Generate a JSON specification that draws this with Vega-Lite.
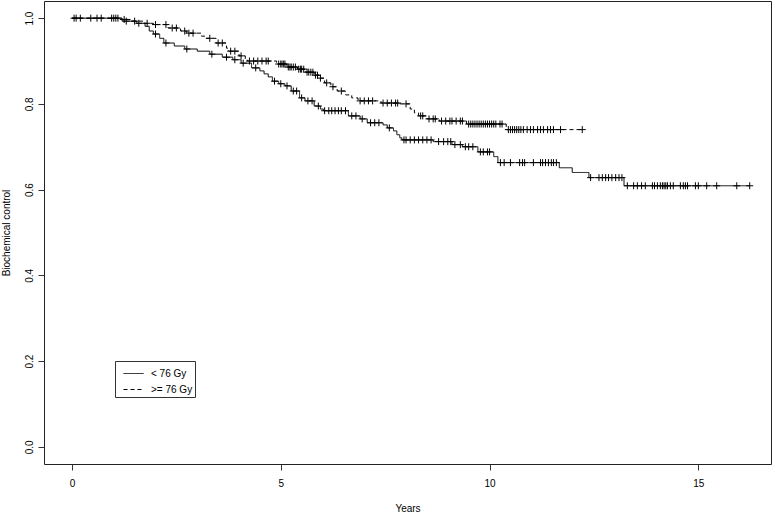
{
  "$schema": "https://vega.github.io/schema/vega-lite/v6.json",
  "width": 727,
  "height": 463,
  "autosize": {"type": "none"},
  "padding": {"left": 44, "top": 1, "right": 6, "bottom": 48},
  "background": "#ffffff",
  "config": {
    "font": "Liberation Sans",
    "view": {"stroke": "#222222", "strokeWidth": 1},
    "axis": {
      "domain": false,
      "grid": false,
      "tickSize": 6,
      "tickColor": "#333333",
      "labelFontSize": 10,
      "labelColor": "#000000",
      "labelFont": "Liberation Sans",
      "titleFont": "Liberation Sans",
      "titleFontSize": 10,
      "titleFontWeight": "normal",
      "titleColor": "#000000"
    }
  },
  "datasets": {
    "km": [
      {"g": ">= 76 Gy", "t": 0, "s": 1, "c": 0},
      {"g": ">= 76 Gy", "t": 0.05, "s": 1, "c": 1},
      {"g": ">= 76 Gy", "t": 0.2, "s": 1, "c": 1},
      {"g": ">= 76 Gy", "t": 0.6, "s": 1, "c": 1},
      {"g": ">= 76 Gy", "t": 0.7, "s": 1, "c": 1},
      {"g": ">= 76 Gy", "t": 1.0, "s": 1, "c": 1},
      {"g": ">= 76 Gy", "t": 1.05, "s": 1, "c": 1},
      {"g": ">= 76 Gy", "t": 1.15, "s": 0.997, "c": 0},
      {"g": ">= 76 Gy", "t": 1.25, "s": 0.997, "c": 1},
      {"g": ">= 76 Gy", "t": 1.4, "s": 0.993, "c": 0},
      {"g": ">= 76 Gy", "t": 1.5, "s": 0.993, "c": 1},
      {"g": ">= 76 Gy", "t": 1.7, "s": 0.988, "c": 0},
      {"g": ">= 76 Gy", "t": 1.8, "s": 0.988, "c": 1},
      {"g": ">= 76 Gy", "t": 1.95, "s": 0.985, "c": 0},
      {"g": ">= 76 Gy", "t": 2.0, "s": 0.985, "c": 1},
      {"g": ">= 76 Gy", "t": 2.25, "s": 0.985, "c": 1},
      {"g": ">= 76 Gy", "t": 2.3, "s": 0.977, "c": 0},
      {"g": ">= 76 Gy", "t": 2.4, "s": 0.977, "c": 1},
      {"g": ">= 76 Gy", "t": 2.5, "s": 0.977, "c": 1},
      {"g": ">= 76 Gy", "t": 2.6, "s": 0.97, "c": 0},
      {"g": ">= 76 Gy", "t": 2.7, "s": 0.97, "c": 1},
      {"g": ">= 76 Gy", "t": 2.75, "s": 0.965, "c": 0},
      {"g": ">= 76 Gy", "t": 2.8, "s": 0.965, "c": 1},
      {"g": ">= 76 Gy", "t": 2.9, "s": 0.965, "c": 1},
      {"g": ">= 76 Gy", "t": 3.1, "s": 0.958, "c": 0},
      {"g": ">= 76 Gy", "t": 3.2, "s": 0.953, "c": 0},
      {"g": ">= 76 Gy", "t": 3.3, "s": 0.953, "c": 1},
      {"g": ">= 76 Gy", "t": 3.45, "s": 0.942, "c": 0},
      {"g": ">= 76 Gy", "t": 3.5, "s": 0.942, "c": 1},
      {"g": ">= 76 Gy", "t": 3.6, "s": 0.942, "c": 1},
      {"g": ">= 76 Gy", "t": 3.7, "s": 0.93, "c": 0},
      {"g": ">= 76 Gy", "t": 3.75, "s": 0.923, "c": 0},
      {"g": ">= 76 Gy", "t": 3.8, "s": 0.923, "c": 1},
      {"g": ">= 76 Gy", "t": 3.9, "s": 0.923, "c": 1},
      {"g": ">= 76 Gy", "t": 4.0, "s": 0.912, "c": 0},
      {"g": ">= 76 Gy", "t": 4.05, "s": 0.912, "c": 1},
      {"g": ">= 76 Gy", "t": 4.15, "s": 0.905, "c": 0},
      {"g": ">= 76 Gy", "t": 4.2, "s": 0.9, "c": 0},
      {"g": ">= 76 Gy", "t": 4.25, "s": 0.9, "c": 1},
      {"g": ">= 76 Gy", "t": 4.35, "s": 0.9, "c": 1},
      {"g": ">= 76 Gy", "t": 4.45, "s": 0.9, "c": 1},
      {"g": ">= 76 Gy", "t": 4.55, "s": 0.9, "c": 1},
      {"g": ">= 76 Gy", "t": 4.65, "s": 0.9, "c": 1},
      {"g": ">= 76 Gy", "t": 4.7, "s": 0.9, "c": 1},
      {"g": ">= 76 Gy", "t": 4.9, "s": 0.893, "c": 0},
      {"g": ">= 76 Gy", "t": 4.95, "s": 0.893, "c": 1},
      {"g": ">= 76 Gy", "t": 5.0, "s": 0.893, "c": 1},
      {"g": ">= 76 Gy", "t": 5.03, "s": 0.893, "c": 1},
      {"g": ">= 76 Gy", "t": 5.07, "s": 0.893, "c": 1},
      {"g": ">= 76 Gy", "t": 5.1, "s": 0.893, "c": 1},
      {"g": ">= 76 Gy", "t": 5.15, "s": 0.886, "c": 0},
      {"g": ">= 76 Gy", "t": 5.18, "s": 0.886, "c": 1},
      {"g": ">= 76 Gy", "t": 5.22, "s": 0.886, "c": 1},
      {"g": ">= 76 Gy", "t": 5.25, "s": 0.886, "c": 1},
      {"g": ">= 76 Gy", "t": 5.3, "s": 0.886, "c": 1},
      {"g": ">= 76 Gy", "t": 5.35, "s": 0.886, "c": 1},
      {"g": ">= 76 Gy", "t": 5.4, "s": 0.881, "c": 0},
      {"g": ">= 76 Gy", "t": 5.43, "s": 0.881, "c": 1},
      {"g": ">= 76 Gy", "t": 5.47, "s": 0.881, "c": 1},
      {"g": ">= 76 Gy", "t": 5.5, "s": 0.881, "c": 1},
      {"g": ">= 76 Gy", "t": 5.55, "s": 0.881, "c": 1},
      {"g": ">= 76 Gy", "t": 5.6, "s": 0.874, "c": 0},
      {"g": ">= 76 Gy", "t": 5.63, "s": 0.874, "c": 1},
      {"g": ">= 76 Gy", "t": 5.67, "s": 0.874, "c": 1},
      {"g": ">= 76 Gy", "t": 5.72, "s": 0.874, "c": 1},
      {"g": ">= 76 Gy", "t": 5.77, "s": 0.874, "c": 1},
      {"g": ">= 76 Gy", "t": 5.8, "s": 0.867, "c": 0},
      {"g": ">= 76 Gy", "t": 5.83, "s": 0.867, "c": 1},
      {"g": ">= 76 Gy", "t": 5.88, "s": 0.867, "c": 1},
      {"g": ">= 76 Gy", "t": 5.92, "s": 0.86, "c": 0},
      {"g": ">= 76 Gy", "t": 5.95, "s": 0.86, "c": 1},
      {"g": ">= 76 Gy", "t": 6.05, "s": 0.849, "c": 0},
      {"g": ">= 76 Gy", "t": 6.1, "s": 0.849, "c": 1},
      {"g": ">= 76 Gy", "t": 6.2, "s": 0.84, "c": 0},
      {"g": ">= 76 Gy", "t": 6.25, "s": 0.84, "c": 1},
      {"g": ">= 76 Gy", "t": 6.35, "s": 0.83, "c": 0},
      {"g": ">= 76 Gy", "t": 6.45, "s": 0.83, "c": 1},
      {"g": ">= 76 Gy", "t": 6.55, "s": 0.821, "c": 0},
      {"g": ">= 76 Gy", "t": 6.7, "s": 0.814, "c": 0},
      {"g": ">= 76 Gy", "t": 6.85, "s": 0.807, "c": 0},
      {"g": ">= 76 Gy", "t": 6.9, "s": 0.807, "c": 1},
      {"g": ">= 76 Gy", "t": 7.0, "s": 0.807, "c": 1},
      {"g": ">= 76 Gy", "t": 7.1, "s": 0.807, "c": 1},
      {"g": ">= 76 Gy", "t": 7.2, "s": 0.807, "c": 1},
      {"g": ">= 76 Gy", "t": 7.4, "s": 0.802, "c": 0},
      {"g": ">= 76 Gy", "t": 7.45, "s": 0.802, "c": 1},
      {"g": ">= 76 Gy", "t": 7.55, "s": 0.802, "c": 1},
      {"g": ">= 76 Gy", "t": 7.65, "s": 0.802, "c": 1},
      {"g": ">= 76 Gy", "t": 7.75, "s": 0.802, "c": 1},
      {"g": ">= 76 Gy", "t": 7.8, "s": 0.802, "c": 1},
      {"g": ">= 76 Gy", "t": 7.85, "s": 0.8, "c": 0},
      {"g": ">= 76 Gy", "t": 8.0, "s": 0.8, "c": 1},
      {"g": ">= 76 Gy", "t": 8.1, "s": 0.788, "c": 0},
      {"g": ">= 76 Gy", "t": 8.2, "s": 0.779, "c": 0},
      {"g": ">= 76 Gy", "t": 8.3, "s": 0.772, "c": 0},
      {"g": ">= 76 Gy", "t": 8.35, "s": 0.772, "c": 1},
      {"g": ">= 76 Gy", "t": 8.4, "s": 0.772, "c": 1},
      {"g": ">= 76 Gy", "t": 8.5, "s": 0.765, "c": 0},
      {"g": ">= 76 Gy", "t": 8.55, "s": 0.765, "c": 1},
      {"g": ">= 76 Gy", "t": 8.65, "s": 0.765, "c": 1},
      {"g": ">= 76 Gy", "t": 8.7, "s": 0.765, "c": 1},
      {"g": ">= 76 Gy", "t": 8.8, "s": 0.76, "c": 0},
      {"g": ">= 76 Gy", "t": 8.85, "s": 0.76, "c": 1},
      {"g": ">= 76 Gy", "t": 8.95, "s": 0.76, "c": 1},
      {"g": ">= 76 Gy", "t": 9.05, "s": 0.76, "c": 1},
      {"g": ">= 76 Gy", "t": 9.1, "s": 0.76, "c": 1},
      {"g": ">= 76 Gy", "t": 9.2, "s": 0.76, "c": 1},
      {"g": ">= 76 Gy", "t": 9.3, "s": 0.76, "c": 1},
      {"g": ">= 76 Gy", "t": 9.35, "s": 0.76, "c": 1},
      {"g": ">= 76 Gy", "t": 9.45, "s": 0.753, "c": 0},
      {"g": ">= 76 Gy", "t": 9.5, "s": 0.753, "c": 1},
      {"g": ">= 76 Gy", "t": 9.55, "s": 0.753, "c": 1},
      {"g": ">= 76 Gy", "t": 9.6, "s": 0.753, "c": 1},
      {"g": ">= 76 Gy", "t": 9.65, "s": 0.753, "c": 1},
      {"g": ">= 76 Gy", "t": 9.7, "s": 0.753, "c": 1},
      {"g": ">= 76 Gy", "t": 9.75, "s": 0.753, "c": 1},
      {"g": ">= 76 Gy", "t": 9.8, "s": 0.753, "c": 1},
      {"g": ">= 76 Gy", "t": 9.85, "s": 0.753, "c": 1},
      {"g": ">= 76 Gy", "t": 9.9, "s": 0.753, "c": 1},
      {"g": ">= 76 Gy", "t": 9.95, "s": 0.753, "c": 1},
      {"g": ">= 76 Gy", "t": 10.0, "s": 0.753, "c": 1},
      {"g": ">= 76 Gy", "t": 10.05, "s": 0.753, "c": 1},
      {"g": ">= 76 Gy", "t": 10.1, "s": 0.753, "c": 1},
      {"g": ">= 76 Gy", "t": 10.15, "s": 0.753, "c": 1},
      {"g": ">= 76 Gy", "t": 10.25, "s": 0.753, "c": 1},
      {"g": ">= 76 Gy", "t": 10.3, "s": 0.753, "c": 1},
      {"g": ">= 76 Gy", "t": 10.4, "s": 0.74, "c": 0},
      {"g": ">= 76 Gy", "t": 10.45, "s": 0.74, "c": 1},
      {"g": ">= 76 Gy", "t": 10.5, "s": 0.74, "c": 1},
      {"g": ">= 76 Gy", "t": 10.55, "s": 0.74, "c": 1},
      {"g": ">= 76 Gy", "t": 10.6, "s": 0.74, "c": 1},
      {"g": ">= 76 Gy", "t": 10.65, "s": 0.74, "c": 1},
      {"g": ">= 76 Gy", "t": 10.7, "s": 0.74, "c": 1},
      {"g": ">= 76 Gy", "t": 10.75, "s": 0.74, "c": 1},
      {"g": ">= 76 Gy", "t": 10.81, "s": 0.74, "c": 1},
      {"g": ">= 76 Gy", "t": 10.9, "s": 0.74, "c": 1},
      {"g": ">= 76 Gy", "t": 10.98, "s": 0.74, "c": 1},
      {"g": ">= 76 Gy", "t": 11.05, "s": 0.74, "c": 1},
      {"g": ">= 76 Gy", "t": 11.15, "s": 0.74, "c": 1},
      {"g": ">= 76 Gy", "t": 11.22, "s": 0.74, "c": 1},
      {"g": ">= 76 Gy", "t": 11.29, "s": 0.74, "c": 1},
      {"g": ">= 76 Gy", "t": 11.39, "s": 0.74, "c": 1},
      {"g": ">= 76 Gy", "t": 11.46, "s": 0.74, "c": 1},
      {"g": ">= 76 Gy", "t": 11.53, "s": 0.74, "c": 1},
      {"g": ">= 76 Gy", "t": 11.7, "s": 0.74, "c": 1},
      {"g": ">= 76 Gy", "t": 12.22, "s": 0.74, "c": 1},

      {"g": "< 76 Gy", "t": 0, "s": 1, "c": 0},
      {"g": "< 76 Gy", "t": 0.1, "s": 1, "c": 1},
      {"g": "< 76 Gy", "t": 0.45, "s": 1, "c": 1},
      {"g": "< 76 Gy", "t": 0.95, "s": 1, "c": 1},
      {"g": "< 76 Gy", "t": 1.1, "s": 1, "c": 1},
      {"g": "< 76 Gy", "t": 1.2, "s": 0.993, "c": 0},
      {"g": "< 76 Gy", "t": 1.3, "s": 0.993, "c": 1},
      {"g": "< 76 Gy", "t": 1.55, "s": 0.988, "c": 0},
      {"g": "< 76 Gy", "t": 1.6, "s": 0.988, "c": 1},
      {"g": "< 76 Gy", "t": 1.75, "s": 0.981, "c": 0},
      {"g": "< 76 Gy", "t": 1.85, "s": 0.97, "c": 0},
      {"g": "< 76 Gy", "t": 1.95, "s": 0.963, "c": 0},
      {"g": "< 76 Gy", "t": 2.0, "s": 0.963, "c": 1},
      {"g": "< 76 Gy", "t": 2.1, "s": 0.953, "c": 0},
      {"g": "< 76 Gy", "t": 2.2, "s": 0.942, "c": 0},
      {"g": "< 76 Gy", "t": 2.25, "s": 0.942, "c": 1},
      {"g": "< 76 Gy", "t": 2.45, "s": 0.935, "c": 0},
      {"g": "< 76 Gy", "t": 2.7, "s": 0.928, "c": 0},
      {"g": "< 76 Gy", "t": 2.75, "s": 0.928, "c": 1},
      {"g": "< 76 Gy", "t": 3.0, "s": 0.923, "c": 0},
      {"g": "< 76 Gy", "t": 3.3, "s": 0.916, "c": 0},
      {"g": "< 76 Gy", "t": 3.35, "s": 0.916, "c": 1},
      {"g": "< 76 Gy", "t": 3.6, "s": 0.909, "c": 0},
      {"g": "< 76 Gy", "t": 3.7, "s": 0.909, "c": 1},
      {"g": "< 76 Gy", "t": 3.85, "s": 0.903, "c": 0},
      {"g": "< 76 Gy", "t": 3.9, "s": 0.903, "c": 1},
      {"g": "< 76 Gy", "t": 4.05, "s": 0.895, "c": 0},
      {"g": "< 76 Gy", "t": 4.1, "s": 0.895, "c": 1},
      {"g": "< 76 Gy", "t": 4.3, "s": 0.884, "c": 0},
      {"g": "< 76 Gy", "t": 4.4, "s": 0.884, "c": 1},
      {"g": "< 76 Gy", "t": 4.5, "s": 0.877, "c": 0},
      {"g": "< 76 Gy", "t": 4.6, "s": 0.87, "c": 0},
      {"g": "< 76 Gy", "t": 4.7, "s": 0.863, "c": 0},
      {"g": "< 76 Gy", "t": 4.8, "s": 0.853, "c": 0},
      {"g": "< 76 Gy", "t": 4.85, "s": 0.853, "c": 1},
      {"g": "< 76 Gy", "t": 4.95, "s": 0.847, "c": 0},
      {"g": "< 76 Gy", "t": 5.0, "s": 0.847, "c": 1},
      {"g": "< 76 Gy", "t": 5.1, "s": 0.842, "c": 0},
      {"g": "< 76 Gy", "t": 5.15, "s": 0.842, "c": 1},
      {"g": "< 76 Gy", "t": 5.25, "s": 0.83, "c": 0},
      {"g": "< 76 Gy", "t": 5.3, "s": 0.83, "c": 1},
      {"g": "< 76 Gy", "t": 5.38, "s": 0.83, "c": 1},
      {"g": "< 76 Gy", "t": 5.45, "s": 0.814, "c": 0},
      {"g": "< 76 Gy", "t": 5.5, "s": 0.814, "c": 1},
      {"g": "< 76 Gy", "t": 5.58, "s": 0.807, "c": 0},
      {"g": "< 76 Gy", "t": 5.65, "s": 0.807, "c": 1},
      {"g": "< 76 Gy", "t": 5.75, "s": 0.807, "c": 1},
      {"g": "< 76 Gy", "t": 5.8, "s": 0.795, "c": 0},
      {"g": "< 76 Gy", "t": 5.9, "s": 0.795, "c": 1},
      {"g": "< 76 Gy", "t": 5.95, "s": 0.788, "c": 0},
      {"g": "< 76 Gy", "t": 6.02, "s": 0.784, "c": 0},
      {"g": "< 76 Gy", "t": 6.05, "s": 0.784, "c": 1},
      {"g": "< 76 Gy", "t": 6.15, "s": 0.784, "c": 1},
      {"g": "< 76 Gy", "t": 6.22, "s": 0.784, "c": 1},
      {"g": "< 76 Gy", "t": 6.3, "s": 0.784, "c": 1},
      {"g": "< 76 Gy", "t": 6.38, "s": 0.784, "c": 1},
      {"g": "< 76 Gy", "t": 6.45, "s": 0.784, "c": 1},
      {"g": "< 76 Gy", "t": 6.55, "s": 0.784, "c": 1},
      {"g": "< 76 Gy", "t": 6.62, "s": 0.772, "c": 0},
      {"g": "< 76 Gy", "t": 6.7, "s": 0.772, "c": 1},
      {"g": "< 76 Gy", "t": 6.8, "s": 0.772, "c": 1},
      {"g": "< 76 Gy", "t": 6.9, "s": 0.765, "c": 0},
      {"g": "< 76 Gy", "t": 6.95, "s": 0.765, "c": 1},
      {"g": "< 76 Gy", "t": 7.07, "s": 0.756, "c": 0},
      {"g": "< 76 Gy", "t": 7.15, "s": 0.756, "c": 1},
      {"g": "< 76 Gy", "t": 7.25, "s": 0.756, "c": 1},
      {"g": "< 76 Gy", "t": 7.35, "s": 0.756, "c": 1},
      {"g": "< 76 Gy", "t": 7.45, "s": 0.751, "c": 0},
      {"g": "< 76 Gy", "t": 7.55, "s": 0.744, "c": 0},
      {"g": "< 76 Gy", "t": 7.6, "s": 0.744, "c": 1},
      {"g": "< 76 Gy", "t": 7.7, "s": 0.737, "c": 0},
      {"g": "< 76 Gy", "t": 7.78, "s": 0.728, "c": 0},
      {"g": "< 76 Gy", "t": 7.85, "s": 0.721, "c": 0},
      {"g": "< 76 Gy", "t": 7.9, "s": 0.716, "c": 0},
      {"g": "< 76 Gy", "t": 7.95, "s": 0.716, "c": 1},
      {"g": "< 76 Gy", "t": 8.0, "s": 0.716, "c": 1},
      {"g": "< 76 Gy", "t": 8.1, "s": 0.716, "c": 1},
      {"g": "< 76 Gy", "t": 8.2, "s": 0.716, "c": 1},
      {"g": "< 76 Gy", "t": 8.3, "s": 0.716, "c": 1},
      {"g": "< 76 Gy", "t": 8.4, "s": 0.716, "c": 1},
      {"g": "< 76 Gy", "t": 8.5, "s": 0.716, "c": 1},
      {"g": "< 76 Gy", "t": 8.6, "s": 0.716, "c": 1},
      {"g": "< 76 Gy", "t": 8.65, "s": 0.712, "c": 0},
      {"g": "< 76 Gy", "t": 8.78, "s": 0.712, "c": 1},
      {"g": "< 76 Gy", "t": 8.9, "s": 0.712, "c": 1},
      {"g": "< 76 Gy", "t": 9.0, "s": 0.712, "c": 1},
      {"g": "< 76 Gy", "t": 9.07, "s": 0.712, "c": 1},
      {"g": "< 76 Gy", "t": 9.1, "s": 0.705, "c": 0},
      {"g": "< 76 Gy", "t": 9.17, "s": 0.705, "c": 1},
      {"g": "< 76 Gy", "t": 9.3, "s": 0.705, "c": 1},
      {"g": "< 76 Gy", "t": 9.35, "s": 0.7, "c": 0},
      {"g": "< 76 Gy", "t": 9.42, "s": 0.7, "c": 1},
      {"g": "< 76 Gy", "t": 9.5, "s": 0.7, "c": 1},
      {"g": "< 76 Gy", "t": 9.6, "s": 0.7, "c": 1},
      {"g": "< 76 Gy", "t": 9.72, "s": 0.688, "c": 0},
      {"g": "< 76 Gy", "t": 9.78, "s": 0.688, "c": 1},
      {"g": "< 76 Gy", "t": 9.85, "s": 0.688, "c": 1},
      {"g": "< 76 Gy", "t": 9.95, "s": 0.688, "c": 1},
      {"g": "< 76 Gy", "t": 10.0, "s": 0.688, "c": 1},
      {"g": "< 76 Gy", "t": 10.1, "s": 0.677, "c": 0},
      {"g": "< 76 Gy", "t": 10.2, "s": 0.663, "c": 0},
      {"g": "< 76 Gy", "t": 10.26, "s": 0.663, "c": 1},
      {"g": "< 76 Gy", "t": 10.35, "s": 0.663, "c": 1},
      {"g": "< 76 Gy", "t": 10.5, "s": 0.663, "c": 1},
      {"g": "< 76 Gy", "t": 10.72, "s": 0.663, "c": 1},
      {"g": "< 76 Gy", "t": 10.79, "s": 0.663, "c": 1},
      {"g": "< 76 Gy", "t": 10.84, "s": 0.663, "c": 1},
      {"g": "< 76 Gy", "t": 11.05, "s": 0.663, "c": 1},
      {"g": "< 76 Gy", "t": 11.22, "s": 0.663, "c": 1},
      {"g": "< 76 Gy", "t": 11.27, "s": 0.663, "c": 1},
      {"g": "< 76 Gy", "t": 11.34, "s": 0.663, "c": 1},
      {"g": "< 76 Gy", "t": 11.41, "s": 0.663, "c": 1},
      {"g": "< 76 Gy", "t": 11.48, "s": 0.663, "c": 1},
      {"g": "< 76 Gy", "t": 11.53, "s": 0.663, "c": 1},
      {"g": "< 76 Gy", "t": 11.6, "s": 0.663, "c": 1},
      {"g": "< 76 Gy", "t": 11.67, "s": 0.651, "c": 0},
      {"g": "< 76 Gy", "t": 11.98, "s": 0.64, "c": 0},
      {"g": "< 76 Gy", "t": 12.38, "s": 0.628, "c": 0},
      {"g": "< 76 Gy", "t": 12.42, "s": 0.628, "c": 1},
      {"g": "< 76 Gy", "t": 12.62, "s": 0.628, "c": 1},
      {"g": "< 76 Gy", "t": 12.7, "s": 0.628, "c": 1},
      {"g": "< 76 Gy", "t": 12.78, "s": 0.628, "c": 1},
      {"g": "< 76 Gy", "t": 12.85, "s": 0.628, "c": 1},
      {"g": "< 76 Gy", "t": 12.93, "s": 0.628, "c": 1},
      {"g": "< 76 Gy", "t": 13.02, "s": 0.628, "c": 1},
      {"g": "< 76 Gy", "t": 13.1, "s": 0.628, "c": 1},
      {"g": "< 76 Gy", "t": 13.17, "s": 0.628, "c": 1},
      {"g": "< 76 Gy", "t": 13.22, "s": 0.609, "c": 0},
      {"g": "< 76 Gy", "t": 13.3, "s": 0.609, "c": 1},
      {"g": "< 76 Gy", "t": 13.45, "s": 0.609, "c": 1},
      {"g": "< 76 Gy", "t": 13.54, "s": 0.609, "c": 1},
      {"g": "< 76 Gy", "t": 13.64, "s": 0.609, "c": 1},
      {"g": "< 76 Gy", "t": 13.73, "s": 0.609, "c": 1},
      {"g": "< 76 Gy", "t": 13.9, "s": 0.609, "c": 1},
      {"g": "< 76 Gy", "t": 13.95, "s": 0.609, "c": 1},
      {"g": "< 76 Gy", "t": 14.02, "s": 0.609, "c": 1},
      {"g": "< 76 Gy", "t": 14.09, "s": 0.609, "c": 1},
      {"g": "< 76 Gy", "t": 14.14, "s": 0.609, "c": 1},
      {"g": "< 76 Gy", "t": 14.18, "s": 0.609, "c": 1},
      {"g": "< 76 Gy", "t": 14.22, "s": 0.609, "c": 1},
      {"g": "< 76 Gy", "t": 14.26, "s": 0.609, "c": 1},
      {"g": "< 76 Gy", "t": 14.33, "s": 0.609, "c": 1},
      {"g": "< 76 Gy", "t": 14.4, "s": 0.609, "c": 1},
      {"g": "< 76 Gy", "t": 14.57, "s": 0.609, "c": 1},
      {"g": "< 76 Gy", "t": 14.64, "s": 0.609, "c": 1},
      {"g": "< 76 Gy", "t": 14.69, "s": 0.609, "c": 1},
      {"g": "< 76 Gy", "t": 14.74, "s": 0.609, "c": 1},
      {"g": "< 76 Gy", "t": 14.93, "s": 0.609, "c": 1},
      {"g": "< 76 Gy", "t": 15.0, "s": 0.609, "c": 1},
      {"g": "< 76 Gy", "t": 15.2, "s": 0.609, "c": 1},
      {"g": "< 76 Gy", "t": 15.44, "s": 0.609, "c": 1},
      {"g": "< 76 Gy", "t": 15.92, "s": 0.609, "c": 1},
      {"g": "< 76 Gy", "t": 16.23, "s": 0.609, "c": 1}
    ]
  },
  "data": {"name": "km"},
  "layer": [
    {
      "mark": {"type": "line", "interpolate": "step-after", "color": "#000000", "strokeWidth": 1},
      "encoding": {
        "x": {"field": "t", "type": "quantitative", "scale": {"domain": [-0.67, 16.74], "nice": false, "zero": false},
              "axis": {"values": [0, 5, 10, 15], "format": "d", "labelPadding": 8, "title": "Years", "titlePadding": 15}},
        "y": {"field": "s", "type": "quantitative", "scale": {"domain": [-0.04, 1.04], "nice": false, "zero": false},
              "axis": {"values": [0, 0.2, 0.4, 0.6, 0.8, 1.0], "format": ".1f", "labelAngle": 270, "labelAlign": "center", "labelBaseline": "bottom", "labelPadding": 4, "title": "Biochemical control", "titlePadding": 13}},
        "strokeDash": {"field": "g", "type": "nominal",
          "scale": {"domain": ["< 76 Gy", ">= 76 Gy"], "range": [[1, 0], [4, 3]]},
          "legend": {"orient": "none", "legendX": 71, "legendY": 360, "title": null, "symbolType": "stroke", "symbolSize": 400, "symbolStrokeWidth": 1, "symbolStrokeColor": "#000000", "symbolOffset": 6, "labelFontSize": 10, "labelColor": "#000000", "labelOffset": 7, "strokeColor": "#333333", "fillColor": "#ffffff", "padding": 2, "rowPadding": -8}}
      }
    },
    {
      "transform": [{"filter": "datum.c == 1"}],
      "mark": {"type": "point", "shape": "M-1,0H1M0,-1V1", "size": 49, "filled": false, "stroke": "#000000", "strokeWidth": 1, "opacity": 1},
      "encoding": {
        "x": {"field": "t", "type": "quantitative"},
        "y": {"field": "s", "type": "quantitative"},
        "detail": {"field": "g", "type": "nominal"}
      }
    }
  ]
}
